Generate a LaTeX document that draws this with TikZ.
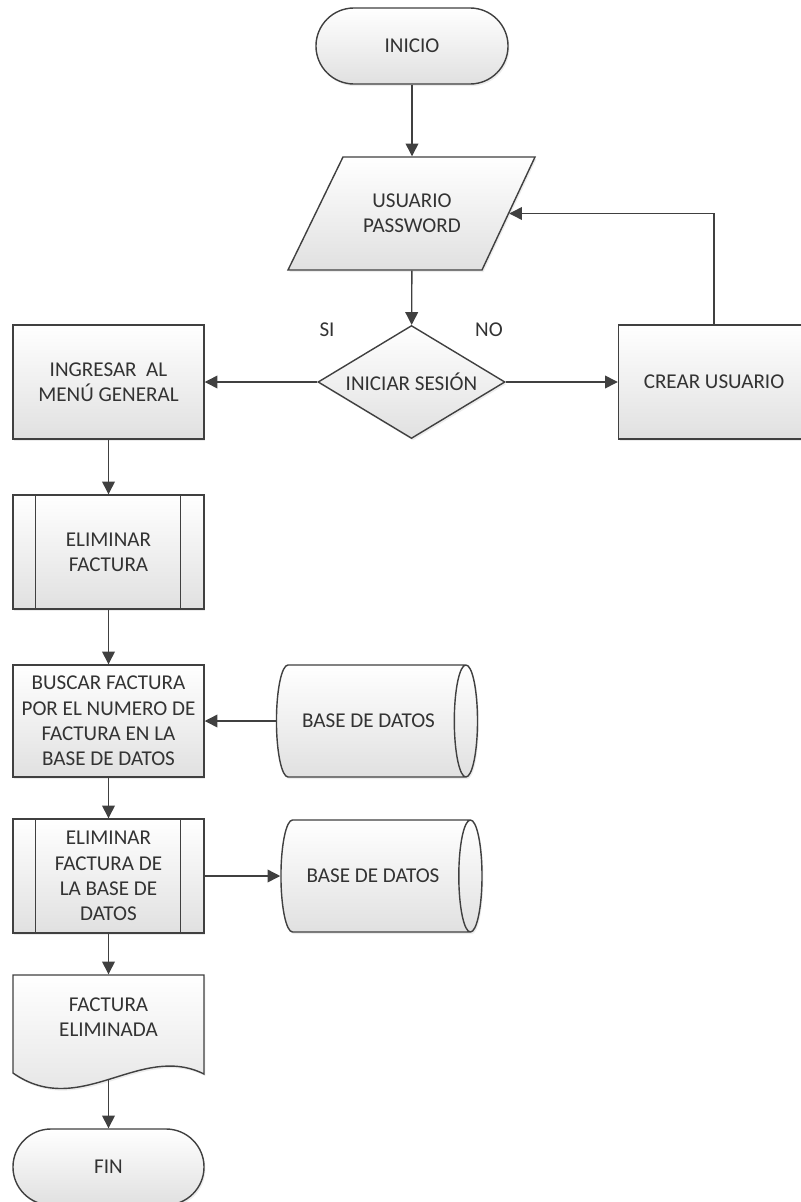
\documentclass[tikz,border=0pt]{standalone}
\usepackage{fontspec}
\setmainfont{Carlito}
\usetikzlibrary{shapes.geometric,arrows.meta,calc,shadows}

\begin{document}
\begin{tikzpicture}
			[x=0.025cm, y=-0.025cm, line width=1pt, text=black!80,
			font=\fontsize{15}{18}\selectfont,
			gfill/.style ={draw=black!75, top color=white, bottom color=black!12,
				drop shadow={opacity=0.15, shadow xshift=1pt, shadow yshift=-1.5pt}},
			term/.style ={gfill, rectangle, rounded corners=0.95cm, minimum width=4.8cm, minimum height=1.9cm},
			block/.style ={gfill, rectangle, align=center, minimum width=4.775cm, minimum height=2.85cm, inner sep=1pt},
			decision/.style ={gfill, diamond, aspect=1.65, minimum width=4.675cm, minimum height=2.825cm, inner sep=1pt},
			store/.style ={gfill, cylinder, aspect=1, minimum width=2.8cm, minimum height=5.025cm},
			arr/.style ={draw=black!75, -{Triangle[length=9pt,width=9pt]}}]
			\useasboundingbox (0,0) rectangle (801,1202);

			\node[term] (inicio) at (412,46) {INICIO};
			\draw[gfill] (343,157) -- (535,157) -- (482,270) -- (288,270) -- cycle;
			\node[align=center, minimum width=4.825cm, minimum height=2.825cm] (datos) at (412,213.5) {USUARIO\\PASSWORD};
			\node[decision] (sesion) at (411.5,382) {INICIAR SESIÓN};
			\node (si) at (327,330) {SI};
			\node (no) at (489,330) {NO};
			\node[block] (menu) at (108.5,382) {INGRESAR~ AL\\MENÚ GENERAL};
			\node[block] (crear) at (714,382) {CREAR USUARIO};

			\node[block] (elim) at (108.5,552) {ELIMINAR\\FACTURA};
			\draw[draw=black!75] ($(elim.north west)+(23,0)$) -- ($(elim.south west)+(23,0)$);
			\draw[draw=black!75] ($(elim.north east)+(-24,0)$) -- ($(elim.south east)+(-24,0)$);
			\node[block, minimum height=2.8cm] (buscar) at (108.5,721) {BUSCAR FACTURA\\POR EL NUMERO DE\\FACTURA EN LA\\BASE DE DATOS};
			\node[store] (bd1) at (368.5,721) {BASE DE DATOS};
			\node[block] (elimbd) at (108.5,876) {ELIMINAR\\FACTURA DE\\LA BASE DE\\DATOS};
			\draw[draw=black!75] ($(elimbd.north west)+(23,0)$) -- ($(elimbd.south west)+(23,0)$);
			\draw[draw=black!75] ($(elimbd.north east)+(-24,0)$) -- ($(elimbd.south east)+(-24,0)$);
			\node[store] (bd2) at (373,876) {BASE DE DATOS};

			\draw[gfill] (13,975) -- (204,975) -- (204,1074) .. controls (140,1042) and (80,1120) .. (13,1073) -- cycle;
			\node[align=center, minimum height=2.1cm] (doc) at (108.5,1017) {FACTURA\\ELIMINADA};
			\coordinate (docb) at (108.5,1079);
			\node[term, minimum width=4.775cm] (fin) at (108.5,1167) {FIN};

			\draw[arr] (inicio) -- (datos);
			\draw[arr] (datos) -- (sesion);
			\draw[arr] (sesion) -- (menu);
			\draw[arr] (sesion) -- (crear);
			\draw[arr] (crear.north) |- (datos.east);
			\draw[arr] (menu) -- (elim);
			\draw[arr] (elim) -- (buscar);
			\draw[arr] (bd1.west) -- (buscar.east);
			\draw[arr] (buscar) -- (elimbd);
			\draw[arr] (elimbd.east) -- (bd2.west);
			\draw[arr] (elimbd) -- (doc);
			\draw[arr] (docb) -- (fin);
		\end{tikzpicture}
\end{document}
